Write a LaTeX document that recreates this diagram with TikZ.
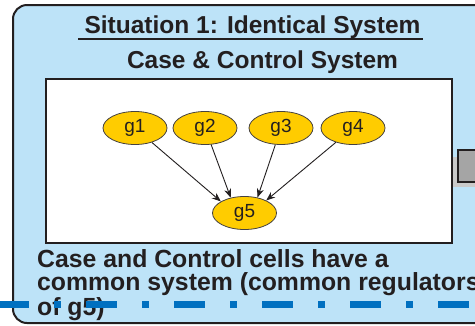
\documentclass[tikz,border=0pt]{standalone}
\usepackage{fontspec}
\setmainfont{Liberation Sans}
\usetikzlibrary{arrows.meta,shapes.geometric}
\definecolor{panelblue}{HTML}{BDE3F8}
\definecolor{inkdark}{HTML}{231F20}
\definecolor{genegold}{HTML}{FFCC00}
\definecolor{dashblue}{HTML}{0070C0}
\definecolor{barlight}{HTML}{CACACA}
\definecolor{boxgray}{HTML}{A5A5A5}

\begin{document}
\begin{tikzpicture}[x=1bp,y=-1bp,
  gene/.style={ellipse, draw=inkdark!85, line width=0.8bp, fill=genegold,
    minimum width=64bp, minimum height=33bp, inner sep=0pt,
    font=\fontsize{19bp}{19bp}\selectfont, text=inkdark},
  regarrow/.style={draw=inkdark, line width=0.9bp, -{Stealth[length=9bp,width=7bp]}},
  heading/.style={font=\fontsize{24.5bp}{24.5bp}\selectfont\bfseries,
    text=inkdark, inner sep=0pt, anchor=base},
  frame/.style={draw=inkdark, line width=2bp},
]
\clip (0,0) rectangle (475,325);

% outer panel
\draw[frame, fill=panelblue, rounded corners=14bp] (13,5) rectangle (540,323);

% headings
\node[heading] (title) at (252.5,33) {Situation 1: Identical System};
\coordinate (ulL) at (78,39.3);
\coordinate (ulR) at (423,39.3);
\draw[inkdark, line width=2bp] (ulL) -- (ulR);
\node[heading] (sub) at (262.5,68) {Case \& Control System};

% side attachment
\fill[barlight] (451,157) rectangle (480,187);
\draw[frame, fill=boxgray] (458,149.5) rectangle (485,182);

% inner white system box
\draw[frame, fill=white] (45.5,78.5) rectangle (451.5,243);

% genes
\node[gene] (g1) at (135,128) {g1};
\node[gene] (g2) at (205,128) {g2};
\node[gene] (g3) at (281,128) {g3};
\node[gene] (g4) at (353,128) {g4};
\node[gene] (g5) at (244.5,213) {g5};

\draw[regarrow] (g1) -- (g5.154);
\draw[regarrow] (g2) -- (g5.132);
\draw[regarrow] (g3) -- (g5.50);
\draw[regarrow] (g4) -- (g5.30);

% caption (base anchor sits on the last line)
\node[anchor=base west, align=left, inner sep=0pt, text=inkdark,
  font=\fontsize{24.8bp}{23bp}\selectfont\bfseries] (note) at (37,315)
  {Case and Control cells have a\\common system (common regulators\\of g5)};

% dash-dot separator
\coordinate (dashL) at (-2,304.5);
\coordinate (dashR) at (480,304.5);
\draw[dashblue, line width=7bp, dash pattern=on 31bp off 25bp on 7bp off 25bp]
  (dashL) -- (dashR);
\end{tikzpicture}
\end{document}
